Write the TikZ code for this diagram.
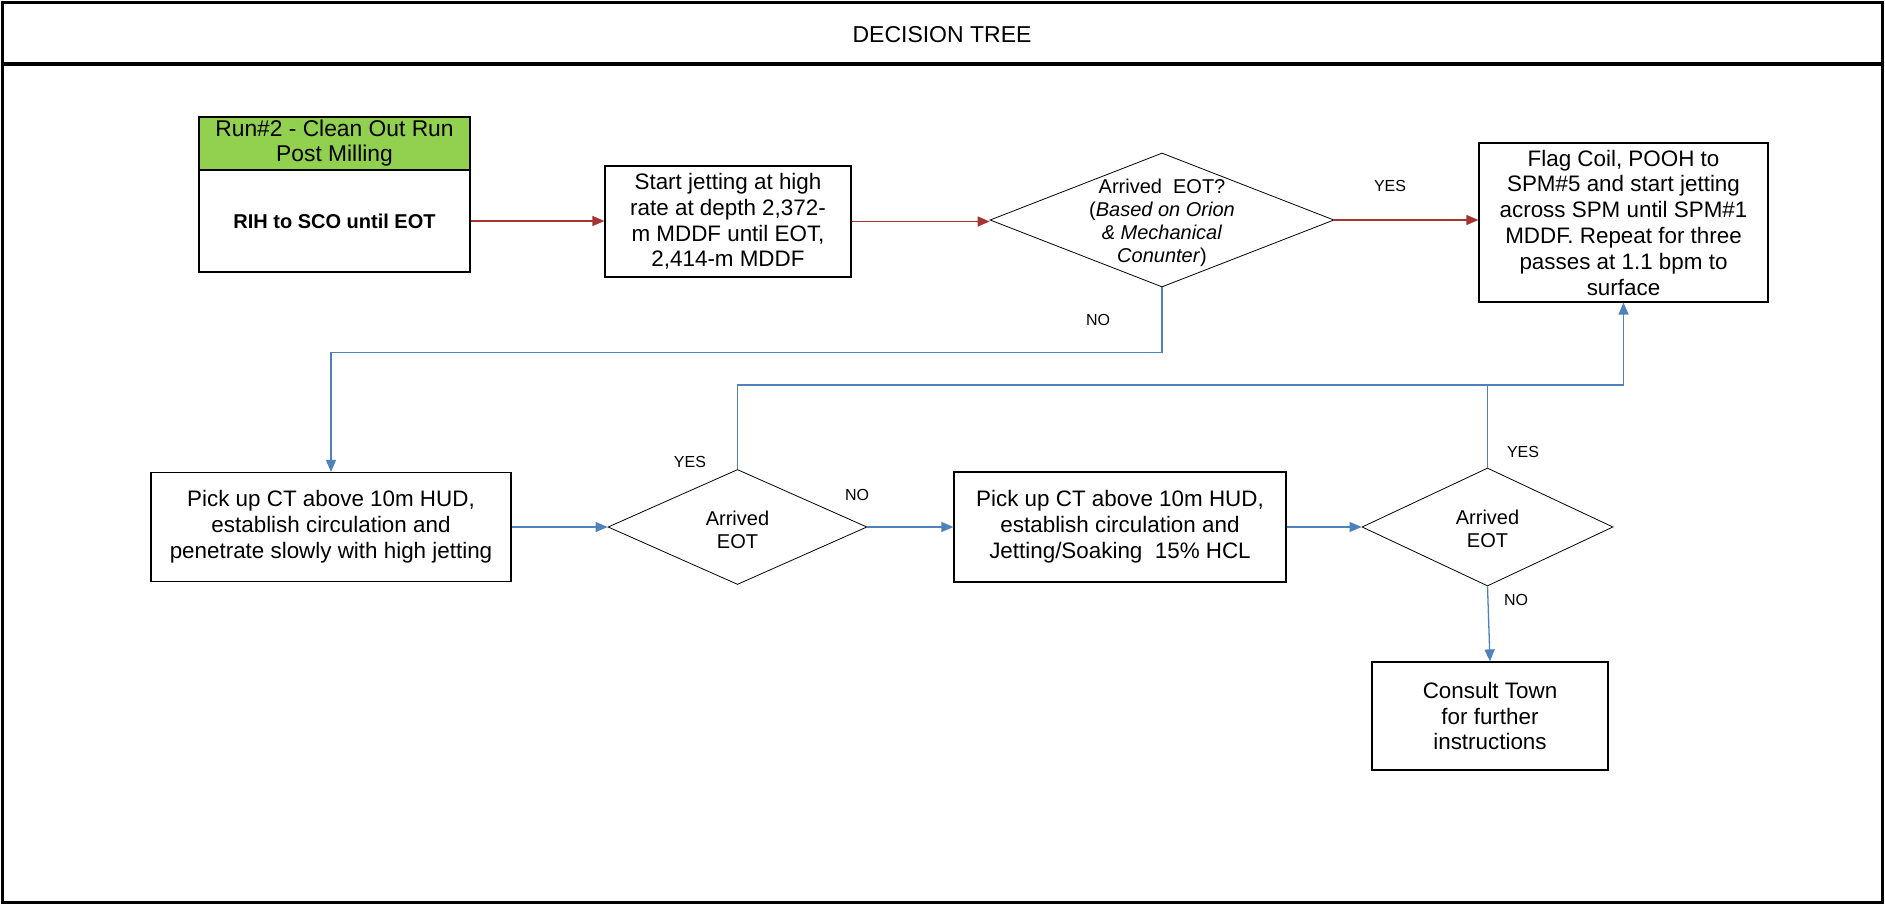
\documentclass[tikz,border=0pt]{standalone}
\usepackage{fontspec}
\setmainfont{Liberation Sans}
\usetikzlibrary{shapes.geometric,arrows.meta}
\definecolor{flowred}{RGB}{165,52,48}
\definecolor{flowblue}{RGB}{79,129,189}
\definecolor{headgreen}{RGB}{146,208,80}
\tikzset{
  procbox/.style={draw, line width=0.6pt, align=center, inner sep=1pt, font=\fontsize{11.2}{12.9}\selectfont},
  decide/.style={diamond, draw, line width=0.4pt, inner sep=0pt},
  dtxt/.style={align=center, inner sep=0pt, font=\fontsize{10}{11.5}\selectfont},
  redarrow/.style={draw=flowred, line width=0.65pt, -{Triangle[length=6pt,width=5pt]}},
  bluearrow/.style={draw=flowblue, line width=0.65pt, -{Triangle[length=6pt,width=5pt]}},
  blueline/.style={draw=flowblue, line width=0.65pt},
  lbl/.style={font=\fontsize{8}{9.6}\selectfont, inner sep=0pt},
}

\begin{document}
\begin{tikzpicture}[x=0.5pt, y=-0.5pt]
  \useasboundingbox (0,0) rectangle (1885,904);
  \draw[line width=1.5pt] (2.5,2.5) rectangle (1882.5,902.5);
  \draw[line width=2pt] (2.5,64) -- (1882.5,64);
  \node[font=\fontsize{11.5}{13.8}\selectfont] (title) at (942,35) {DECISION TREE};

  \node[procbox, fill=headgreen, minimum width=135.5pt, minimum height=26.5pt, font=\fontsize{11.4}{12.6}\selectfont] (run) at (334.5,143.5) {Run\#2 - Clean Out Run\\Post Milling};
  \node[procbox, minimum width=135.5pt, minimum height=51pt, font=\bfseries\fontsize{10}{12}\selectfont] (rih) at (334.5,221) {RIH to SCO until EOT};
  \node[procbox, minimum width=123pt, minimum height=55.5pt] (start) at (728,221.5) {Start jetting at high\\rate at depth 2,372-\\m MDDF until EOT,\\2,414-m MDDF};
  \node[decide, minimum width=172pt, minimum height=67pt] (arr1) at (1162,220) {};
  \node[dtxt] (arr1q) at (1162,223) {Arrived\ \ EOT?\\(\textit{Based on Orion}\\\textit{\& Mechanical}\\\textit{Conunter})};
  \node[procbox, minimum width=144.5pt, minimum height=79.5pt] (flag) at (1623.5,222.5) {Flag Coil, POOH to\\SPM\#5 and start jetting\\across SPM until SPM\#1\\MDDF. Repeat for three\\passes at 1.1 bpm to\\surface};

  \node[procbox, minimum width=180pt, minimum height=54.5pt] (pick1) at (331,527) {Pick up CT above 10m HUD,\\establish circulation and\\penetrate slowly with high jetting};
  \node[decide, minimum width=129.5pt, minimum height=57.5pt] (arr2) at (737.5,527) {};
  \node[dtxt] (arr2q) at (737.5,530) {Arrived\\EOT};
  \node[procbox, minimum width=166pt, minimum height=55pt] (pick2) at (1120,527) {Pick up CT above 10m HUD,\\establish circulation and\\Jetting/Soaking\ \ 15\% HCL};
  \node[decide, minimum width=125.5pt, minimum height=59pt] (arr3) at (1487.5,527) {};
  \node[dtxt] (arr3q) at (1487.5,529) {Arrived\\EOT};
  \node[procbox, minimum width=118pt, minimum height=54pt] (town) at (1490,716) {Consult Town\\for further\\instructions};

  \node[lbl] (yes1) at (1390,186) {YES};
  \node[lbl] (no1) at (1098,320) {NO};
  \node[lbl] (yes2) at (690,462) {YES};
  \node[lbl] (no2) at (857,495) {NO};
  \node[lbl] (yes3) at (1523,452) {YES};
  \node[lbl] (no3) at (1516,600) {NO};

  \draw[redarrow] (rih.east) -- (rih.east -| start.west);
  \draw[redarrow] (start.east) -- (start.east -| arr1.west);
  \draw[redarrow] (arr1.east) -- (arr1.east -| flag.west);
  \draw[bluearrow] (arr1.south) -- ++(0,65) -| (pick1.north);
  \draw[bluearrow] (pick1.east) -- (arr2.west);
  \draw[bluearrow] (arr2.east) -- (pick2.west);
  \draw[bluearrow] (pick2.east) -- (arr3.west);
  \coordinate (yesjoin) at (1487.5,385);
  \draw[bluearrow] (arr2.north) |- (yesjoin) -| (flag.south);
  \draw[blueline] (arr3.north) -- (yesjoin);
  \draw[bluearrow] (arr3.south) -- (town.north);
\end{tikzpicture}
\end{document}
